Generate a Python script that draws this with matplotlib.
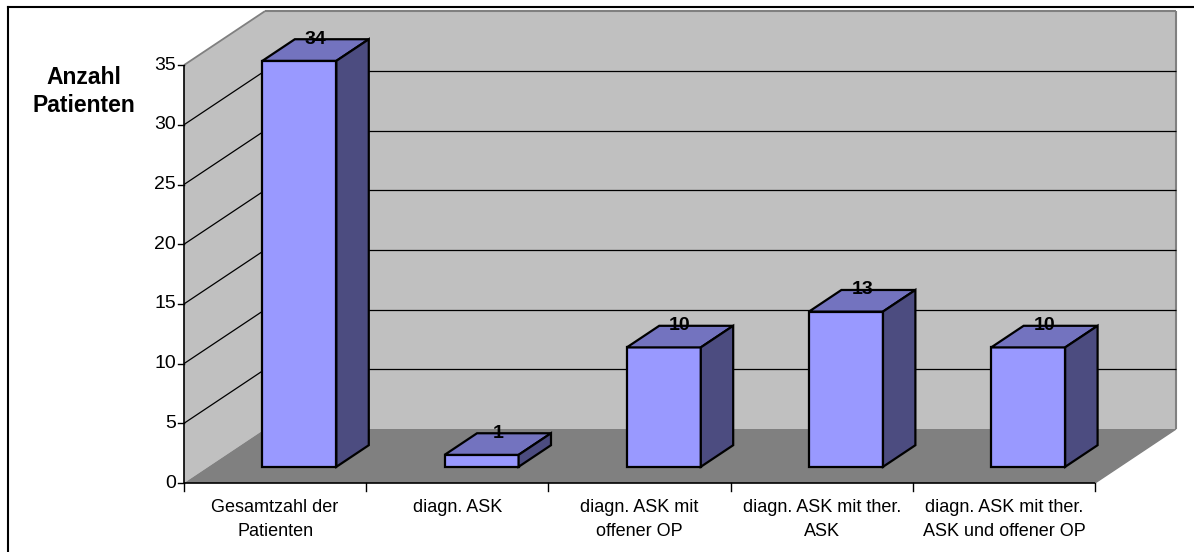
import numpy as np
import matplotlib
matplotlib.use('Agg')
import matplotlib.pyplot as plt
from matplotlib.patches import Polygon

plt.rcParams['font.family'] = ['Liberation Sans', 'DejaVu Sans']

# data
categories = ["Gesamtzahl der\nPatienten", "diagn. ASK", "diagn. ASK mit\noffener OP",
              "diagn. ASK mit ther.\nASK", "diagn. ASK mit ther.\nASK und offener OP"]
values = [34, 1, 10, 13, 10]
y_ticks = [0, 5, 10, 15, 20, 25, 30, 35]
y_title = ["Anzahl", "Patienten"]

# pseudo-3d layout (data units: x = category slots, y = value)
PX_X = 182.2      # pixels per category slot
PX_Y = 11.94      # pixels per value unit
X0_PX, Y0_PX = 184, 483   # pixel position of the front origin
DX = 81 / PX_X    # depth offset of the back wall
DY = 54 / PX_Y
YMAX = 35
BAR_W = 0.203
D0, D1 = 0.3, 0.7

WALL = '#C0C0C0'
FLOOR = '#808080'
EDGE = '#808080'
FRONT = '#9999FF'
TOP = '#7373BF'
SIDE = '#4C4C80'


def proj(x, v, d):
    return (x + d * DX, v + d * DY)


def poly(ax, pts, face, edge='none', lw=0, z=1):
    ax.add_patch(Polygon([proj(*p) for p in pts], closed=True, facecolor=face,
                         edgecolor=edge, linewidth=lw, zorder=z, joinstyle='miter'))


def line(ax, a, b, color='black', lw=0.9, z=2):
    pa, pb = proj(*a), proj(*b)
    ax.plot([pa[0], pb[0]], [pa[1], pb[1]], color=color, lw=lw, zorder=z,
            solid_capstyle='butt')


fig = plt.figure(figsize=(11.94, 5.52), dpi=100)
ax = fig.add_axes([0, 0, 1, 1])
ax.axis('off')
ax.set_xlim(-X0_PX / PX_X, 5 + (1194 - 1095) / PX_X)
ax.set_ylim(-(552 - Y0_PX) / PX_Y, Y0_PX / PX_Y)

n = len(values)

# walls and floor
poly(ax, [(0, 0, 1), (n, 0, 1), (n, YMAX, 1), (0, YMAX, 1)], WALL)
poly(ax, [(0, 0, 0), (0, 0, 1), (0, YMAX, 1), (0, YMAX, 0)], WALL)
poly(ax, [(0, 0, 0), (n, 0, 0), (n, 0, 1), (0, 0, 1)], FLOOR)
line(ax, (0, YMAX, 0), (0, YMAX, 1), EDGE, 1.3)
line(ax, (0, YMAX, 1), (n, YMAX, 1), EDGE, 1.5)
line(ax, (n, YMAX, 1), (n, 0, 1), EDGE, 1.5)
line(ax, (n, 0, 0), (n, 0, 1), EDGE, 1.0)

# gridlines
for v in y_ticks[1:-1]:
    line(ax, (0, v, 0), (0, v, 1))
    line(ax, (0, v, 1), (n, v, 1))

# axes lines and ticks
line(ax, (0, 0, 0), (0, YMAX, 0), lw=1.2, z=3)
line(ax, (0, 0, 0), (n, 0, 0), lw=1.2, z=3)
for v in y_ticks:
    ax.plot([-6 / PX_X, 0], [v, v], color='black', lw=1, zorder=3)
    ax.text(-8 / PX_X, v, str(v), ha='right', va='center', fontsize=14)
for i in range(n + 1):
    ax.plot([i, i], [0, -8 / PX_Y], color='black', lw=1, zorder=3)

# bars
for i, val in enumerate(values):
    x0, x1 = i + 0.5 - BAR_W, i + 0.5 + BAR_W
    poly(ax, [(x0, 0, D0), (x1, 0, D0), (x1, val, D0), (x0, val, D0)], FRONT, 'black', 1.6, 4)
    poly(ax, [(x0, val, D0), (x1, val, D0), (x1, val, D1), (x0, val, D1)], TOP, 'black', 1.6, 4)
    poly(ax, [(x1, 0, D0), (x1, 0, D1), (x1, val, D1), (x1, val, D0)], SIDE, 'black', 1.6, 4)
    lx, ly = proj(i + 0.5, val, D1)
    ax.text(i + 0.5 + 0.5 * DX, ly, str(val), ha='center', va='center',
            fontsize=14, fontweight='bold', zorder=6)

# category labels
for i, cat in enumerate(categories):
    for k, part in enumerate(cat.split('\n')):
        ax.text(i + 0.5, -(507 + 25 * k - Y0_PX) / PX_Y, part, ha='center',
                va='center', fontsize=13)

# y title
for k, part in enumerate(y_title):
    ax.text((84 - X0_PX) / PX_X, (Y0_PX - 77 - 28 * k) / PX_Y, part, ha='center',
            va='center', fontsize=16.5, fontweight='bold')

# chart frame (only top/left visible)
bx, by = (8 - X0_PX) / PX_X, (Y0_PX - 7) / PX_Y
ax.plot([bx, bx], [by, ax.get_ylim()[0]], color='black', lw=1.5)
ax.plot([bx, ax.get_xlim()[1]], [by, by], color='black', lw=1.5)

fig.savefig('out.png', dpi=100)
plt.close(fig)
